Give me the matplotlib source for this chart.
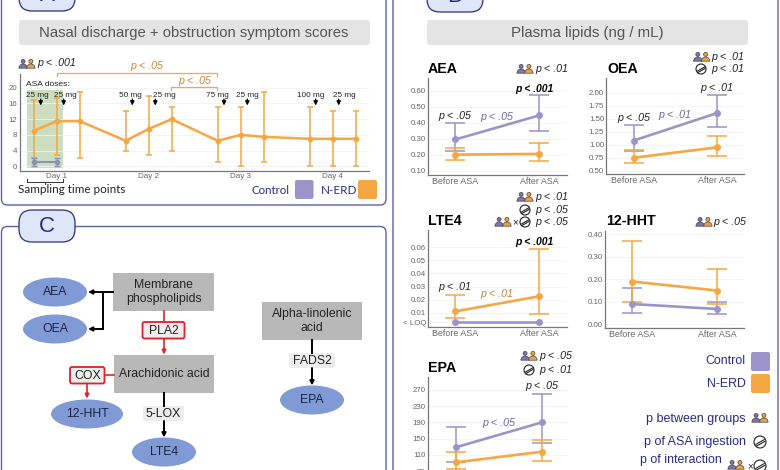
import matplotlib
matplotlib.use('Agg')
import matplotlib.pyplot as plt
from matplotlib.patches import Circle, Ellipse, FancyBboxPatch, Rectangle, Wedge

plt.rcParams['font.family'] = ['Liberation Sans', 'DejaVu Sans']

# panel A
day_pos = [0, 1, 2, 4, 5, 6, 8, 9, 10, 12, 13, 14]
nerd_mean = [9, 11.5, 11.5, 6.5, 9.5, 12, 6.5, 8, 7.5, 7, 7, 7]
nerd_low = [2, 3, 2, 4, 3, 4, 1, 0, 1, 0, 0, 0]
nerd_up = [17, 17.5, 19, 14, 18, 15, 15, 15, 19, 15, 14, 14]
ctrl_pos = [0, 1]
ctrl_mean = [1, 1]
ctrl_low = [0.2, 0.2]
ctrl_up = [2, 2]
day_ticks = [1, 5, 9, 13]
day_labels = ['Day 1', 'Day 2', 'Day 3', 'Day 4']
a_yticks = [0, 4, 8, 12, 16, 20]

# panel B, each list is before / after
aea_c = [0.295, 0.445]
aea_c_low = [0.22, 0.35]
aea_c_up = [0.40, 0.57]
aea_n = [0.20, 0.205]
aea_n_low = [0.165, 0.16]
aea_n_up = [0.24, 0.27]

oea_c = [1.08, 1.61]
oea_c_low = [0.87, 1.34]
oea_c_up = [1.37, 1.95]
oea_n = [0.75, 0.95]
oea_n_low = [0.64, 0.78]
oea_n_up = [0.90, 1.16]

lte_c = [0.0027, 0.0027]
lte_n = [0.011, 0.0225]
lte_n_low = [0.0057, 0.0088]
lte_n_up = [0.0235, 0.0587]

hht_c = [0.09, 0.068]
hht_c_low = [0.052, 0.047]
hht_c_up = [0.16, 0.10]
hht_n = [0.19, 0.15]
hht_n_low = [0.10, 0.09]
hht_n_up = [0.37, 0.247]

epa_c = [129, 190]
epa_c_low = [94, 139]
epa_c_up = [178, 260]
epa_n = [92, 118]
epa_n_low = [75, 96]
epa_n_up = [118, 147]

ORANGE = '#f4a742'
PURPLE = '#9b93c9'
NAVY = '#2b2a85'
FRAME = '#5f5fa8'
GREY = '#666666'

fig = plt.figure(figsize=(7.8, 4.7), dpi=100)

# overlay in pixel coordinates for the boxes, labels and icons
ov = fig.add_axes([0, 0, 1, 1], zorder=10)
ov.set_xlim(0, 780)
ov.set_ylim(470, 0)
ov.axis('off')


def px_axes(left, right, top, bottom, ylim, x0=None, x1=None):
    ax = fig.add_axes([left / 780, 1 - bottom / 470, (right - left) / 780, (bottom - top) / 470])
    ax.patch.set_alpha(0)
    for s in ['top', 'right']:
        ax.spines[s].set_visible(False)
    for s in ['left', 'bottom']:
        ax.spines[s].set_color('#777777')
        ax.spines[s].set_linewidth(0.9)
    ax.set_ylim(*ylim)
    if x0 is not None:
        unit = x1 - x0
        ax.set_xlim((left - x0) / unit, (right - x0) / unit)
    ax.tick_params(length=0, pad=1.5, labelsize=5.7, labelcolor=GREY)
    return ax


def text(x, y, s, **kw):
    kw.setdefault('va', 'center')
    kw.setdefault('ha', 'left')
    ov.text(x, y, s, **kw)


def people(cx, cy):
    for dx, c in [(-3.9, '#7d75ad'), (3.9, '#eda246')]:
        ov.add_patch(Circle((cx + dx, cy - 2.6), 2.0, fc=c, ec='#444444', lw=0.5))
        ov.add_patch(Wedge((cx + dx, cy + 4.2), 4.2, 180, 360, fc=c, ec='#444444', lw=0.5))


def pill(cx, cy, r=5):
    ov.add_patch(Circle((cx, cy), r, fc='white', ec='#222222', lw=0.8))
    ov.plot([cx - r * 0.7, cx + r * 0.7], [cy + r * 0.4, cy - r * 0.4], color='#222222', lw=0.8)
    ov.plot([cx - r * 0.6, cx + r * 0.8], [cy + r * 0.7, cy - r * 0.1], color='#222222', lw=0.8)


def arrow(x0, y0, x1, y1, color='black', lw=1.4):
    ov.annotate('', xy=(x1, y1), xytext=(x0, y0),
                arrowprops=dict(arrowstyle='-|>', color=color, lw=lw, mutation_scale=6,
                                shrinkA=0, shrinkB=0))


def ptext(x, y, s, color='#222222', bold=False, ha='left', size=7.7):
    text(x, y, s, style='italic', color=color, ha=ha, fontsize=7.5 if bold else size,
         fontweight='bold' if bold else 'normal')


def rbox(x0, y0, x1, y1, r=3, **kw):
    ov.add_patch(FancyBboxPatch((x0 + r, y0 + r), x1 - x0 - 2 * r, y1 - y0 - 2 * r,
                                boxstyle='round,pad=%s,rounding_size=%s' % (r, r), **kw))


# frames and tabs
rbox(1.5, -30, 386, 205, r=6, fc='none', ec=FRAME, lw=1.0)
rbox(393, -30, 778, 500, r=6, fc='none', ec=FRAME, lw=1.0)
rbox(1.5, 226.5, 386, 500, r=6, fc='none', ec=FRAME, lw=1.0)
for x0, y0, y1, letter, ly in [(19, -30, 11, 'A', -4.5), (427, -30, 12, 'B', -3.5), (19, 210, 242, 'C', 227)]:
    rbox(x0, y0, x0 + 56, y1, r=13, fc='#dde7f8', ec='#2d2d80', lw=0.9)
    text(x0 + 28, ly, letter, ha='center', color=NAVY, fontsize=16)

# title bars
rbox(19, 20, 370, 45, r=3, fc='#e4e4e4', ec='none')
text(194, 32.5, 'Nasal discharge + obstruction symptom scores', ha='center', color='#555555', fontsize=10.75)
rbox(427, 20, 748, 45, r=3, fc='#e4e4e4', ec='none')
text(587, 33, 'Plasma lipids (ng / mL)', ha='center', color='#555555', fontsize=10.8)

# panel A chart
axa = px_axes(19.5, 369, 74, 171, (-1.2, 23.5), x0=33.7, x1=56.7)
axa.axvspan(-0.29, 1.27, ymin=0.03, ymax=0.835, color='#c7dbb8', alpha=0.9, lw=0, zorder=0)
axa.set_yticks(a_yticks)
axa.set_xticks(day_ticks)
axa.set_xticklabels(day_labels, fontsize=5.8)
axa.grid(axis='y', color='#f2f2f2', lw=0.6)
axa.set_axisbelow(True)
axa.errorbar(day_pos, nerd_mean,
             yerr=[[m - l for m, l in zip(nerd_mean, nerd_low)], [u - m for m, u in zip(nerd_mean, nerd_up)]],
             color=ORANGE, lw=1.8, elinewidth=1.1, capsize=2, capthick=1.1, marker='o', ms=3.2, zorder=3)
axa.errorbar(ctrl_pos, ctrl_mean,
             yerr=[[m - l for m, l in zip(ctrl_mean, ctrl_low)], [u - m for m, u in zip(ctrl_mean, ctrl_up)]],
             color='#8b93b5', lw=1.5, elinewidth=1.0, capsize=2, capthick=1.0, marker='o', ms=3, zorder=4)

people(27, 64)
ptext(37, 63, 'p < .001')
text(26, 85, 'ASA doses:', fontsize=6.1, color='#222222')
for lx, ax_, dose in [(37, 40.7, '25 mg'), (65.7, 63.7, '25 mg'), (130, 132.3, '50 mg'), (164, 155.3, '25 mg'),
                      (217, 224, '75 mg'), (247.7, 247.3, '25 mg'), (311, 315.7, '100 mg'), (344, 338.7, '25 mg')]:
    text(lx, 95.5, dose, ha='center', fontsize=5.9, color='#222222')
    arrow(ax_, 99, ax_, 105.5, lw=0.9)
ov.plot([56.7, 56.7, 217.3, 217.3], [76, 73, 73, 76], color=ORANGE, lw=0.9)
ov.plot([171.3, 171.3, 217.3, 217.3], [90, 87.3, 87.3, 90], color=ORANGE, lw=0.9)
ptext(146.7, 66, 'p < .05', color='#c9853a', ha='center')
ptext(195, 81, 'p < .05', color='#c9853a', ha='center')
ov.plot([26.7, 26.7, 62.7, 62.7], [179, 182, 182, 179], color='#333333', lw=0.7)
ov.plot([44.5, 44.5], [182, 184], color='#333333', lw=0.7)
text(18, 189.5, 'Sampling time points', fontfamily='Lato', fontsize=8.4, color='#222222')
text(290, 190, 'Control', ha='right', fontfamily='Lato', fontsize=8.3, color=NAVY)
rbox(295, 180, 313.5, 199, r=2, fc=PURPLE, ec='none')
text(321, 190, 'N-ERD', fontfamily='Lato', fontsize=8.4, color=NAVY)
rbox(358, 180, 377, 199, r=2, fc=ORANGE, ec='none')


# panel B charts
def lipid_ax(left, right, top, bottom, ylim, x0, x1, ticks, ticklabels=None):
    ax = px_axes(left, right, top, bottom, ylim, x0=x0, x1=x1)
    ax.set_yticks(ticks)
    ax.set_yticklabels(ticklabels)
    ax.set_xticks([0, 1])
    ax.set_xticklabels(['Before ASA', 'After ASA'], fontsize=6.4)
    ax.grid(axis='y', color='#f3f3f3', lw=0.6)
    ax.set_axisbelow(True)
    return ax


def series(ax, mean, low, up, color):
    if low is None:
        ax.plot([0, 1], mean, color=color, lw=1.9, marker='o', ms=4, zorder=3)
        return
    err = [[m - l for m, l in zip(mean, low)], [u - m for m, u in zip(mean, up)]]
    ax.errorbar([0, 1], mean, yerr=err, color=color, lw=1.9, elinewidth=1.1, capsize=7.2, capthick=1.1,
                marker='o', ms=4, zorder=3)


ax = lipid_ax(428.3, 566.7, 78, 175, (0.073, 0.679), 455.3, 539,
              [0.1, 0.2, 0.3, 0.4, 0.5, 0.6], ['0.10', '0.20', '0.30', '0.40', '0.50', '0.60'])
series(ax, aea_c, aea_c_low, aea_c_up, PURPLE)
series(ax, aea_n, aea_n_low, aea_n_up, ORANGE)

ax = lipid_ax(606.3, 744.3, 78, 174.3, (0.431, 2.283), 633.7, 717.3,
              [0.5, 0.75, 1.0, 1.25, 1.5, 1.75, 2.0], ['0.50', '0.75', '1.00', '1.25', '1.50', '1.75', '2.00'])
series(ax, oea_c, oea_c_low, oea_c_up, PURPLE)
series(ax, oea_n, oea_n_low, oea_n_up, ORANGE)

ax = lipid_ax(428.3, 566.7, 230, 326.7, (-0.0007, 0.0732), 455.3, 539,
              [0.0027, 0.01, 0.02, 0.03, 0.04, 0.05, 0.06], ['< LOQ', '0.01', '0.02', '0.03', '0.04', '0.05', '0.06'])
series(ax, lte_c, None, None, PURPLE)
series(ax, lte_n, lte_n_low, lte_n_up, ORANGE)

ax = lipid_ax(605, 744, 230.7, 328.3, (-0.0178, 0.416), 632.3, 717.3,
              [0, 0.1, 0.2, 0.3, 0.4], ['0.00', '0.10', '0.20', '0.30', '0.40'])
series(ax, hht_c, hht_c_low, hht_c_up, PURPLE)
series(ax, hht_n, hht_n_low, hht_n_up, ORANGE)

ax = lipid_ax(427.7, 568, 376.7, 490, (24.2, 301.9), 456, 542,
              [70, 110, 150, 190, 230, 270], ['70', '110', '150', '190', '230', '270'])
series(ax, epa_c, epa_c_low, epa_c_up, PURPLE)
series(ax, epa_n, epa_n_low, epa_n_up, ORANGE)

for x, y, name in [(428, 69, 'AEA'), (607, 69, 'OEA'), (428, 221, 'LTE4'), (605.7, 221, '12-HHT'), (428, 368, 'EPA')]:
    text(x, y, name, fontweight='bold', fontsize=10.2, color='black')

# p values next to the chart titles
people(525, 69)
ptext(535, 69, 'p < .01')
people(701.7, 57)
ptext(711, 57, 'p < .01')
pill(701, 69)
ptext(711, 69, 'p < .01')
people(525, 197)
ptext(535, 197, 'p < .01')
pill(525, 210)
ptext(535, 210, 'p < .05')
people(503, 222)
text(515, 222, '×', ha='center', fontsize=7, color='#222222')
pill(525, 222)
ptext(535, 222, 'p < .05')
people(704, 222)
ptext(713, 222, 'p < .05')
people(529, 356)
ptext(539, 356, 'p < .05')
pill(529, 370)
ptext(539, 370, 'p < .01')

# p values in the charts
ptext(455, 115.7, 'p < .05', ha='center')
ptext(497, 117, 'p < .05', color='#6f63a8', ha='center')
ptext(534, 89, 'p < .001', bold=True, color='black', ha='center')
ptext(634, 118, 'p < .05', ha='center')
ptext(675, 115, 'p < .01', color='#6f63a8', ha='center')
ptext(717, 88, 'p < .01', ha='center')
ptext(455, 287, 'p < .01', ha='center')
ptext(497, 294, 'p < .01', color='#c9853a', ha='center')
ptext(534, 241.7, 'p < .001', bold=True, color='black', ha='center')
ptext(499, 422.7, 'p < .05', color='#6f63a8', ha='center')
ptext(542, 386, 'p < .05', ha='center')

# panel B legend
text(746, 361, 'Control', ha='right', fontsize=8.9, color=NAVY)
rbox(751, 352, 770, 371, r=2, fc=PURPLE, ec='none')
text(746, 384, 'N-ERD', ha='right', fontsize=8.9, color=NAVY)
rbox(751, 374, 770, 393, r=2, fc=ORANGE, ec='none')
text(746, 419, 'p between groups', ha='right', fontsize=9, color=NAVY)
people(760, 418)
text(746, 442, 'p of ASA ingestion', ha='right', fontsize=9, color=NAVY)
pill(760, 442, r=6)
text(722, 459.5, 'p of interaction', ha='right', fontsize=8.9, color=NAVY)
people(736, 465)
text(750, 466, '×', ha='center', fontsize=7, color='#222222')
pill(760, 466, r=6)

# panel C pathways
for x0, y0, x1, y1, label in [(113, 273, 214, 311, 'Membrane\nphospholipids'),
                              (114, 355, 214, 393, 'Arachidonic acid'),
                              (262, 302, 362, 340, 'Alpha-linolenic\nacid')]:
    ov.add_patch(Rectangle((x0, y0), x1 - x0, y1 - y0, fc='#b8b8b8', ec='none'))
    text((x0 + x1) / 2, (y0 + y1) / 2, label, ha='center', fontsize=8.85, color='#222222', linespacing=1.15)

for cx, cy, w, label in [(55, 292, 64, 'AEA'), (55, 329, 64, 'OEA'), (87, 414, 72, '12-HHT'),
                         (164, 452, 64, 'LTE4'), (312, 400, 64, 'EPA')]:
    ov.add_patch(Ellipse((cx, cy), w, 29, fc='#7f9ad4', ec='none'))
    text(cx, cy, label, ha='center', fontsize=8.85, color='#1c2340')

ov.plot([113, 103, 103], [292, 292, 329], color='black', lw=1.4)
arrow(103, 292, 88, 292)
arrow(103, 329, 88, 329)
ov.plot([164, 164], [311, 322], color='#e0202a', lw=1.2)
arrow(164, 339, 164, 354.5, color='#e0202a', lw=1.2)
ov.plot([105, 114], [375, 375], color='#e0202a', lw=1.2)
arrow(87, 384, 87, 398.5, color='#e0202a', lw=1.2)
ov.plot([164, 164], [393, 406], color='black', lw=1.4)
arrow(164, 421, 164, 437.5)
ov.plot([312, 312], [340, 353], color='black', lw=1.4)
arrow(312, 368, 312, 385.5)

for x0, y0, x1, y1, label, edge in [(142.5, 322, 184.5, 338.5, 'PLA2', '#e0202a'),
                                    (70, 367, 104.5, 383.5, 'COX', '#e0202a'),
                                    (143, 406, 184, 421, '5-LOX', 'none'),
                                    (289, 353, 335, 368, 'FADS2', 'none')]:
    rbox(x0, y0, x1, y1, r=2, fc='#ededed', ec=edge, lw=1.3)
    text((x0 + x1) / 2, (y0 + y1) / 2 + 0.5, label, ha='center', fontsize=8.85, color='#222222')

plt.savefig('out.png', dpi=100)
